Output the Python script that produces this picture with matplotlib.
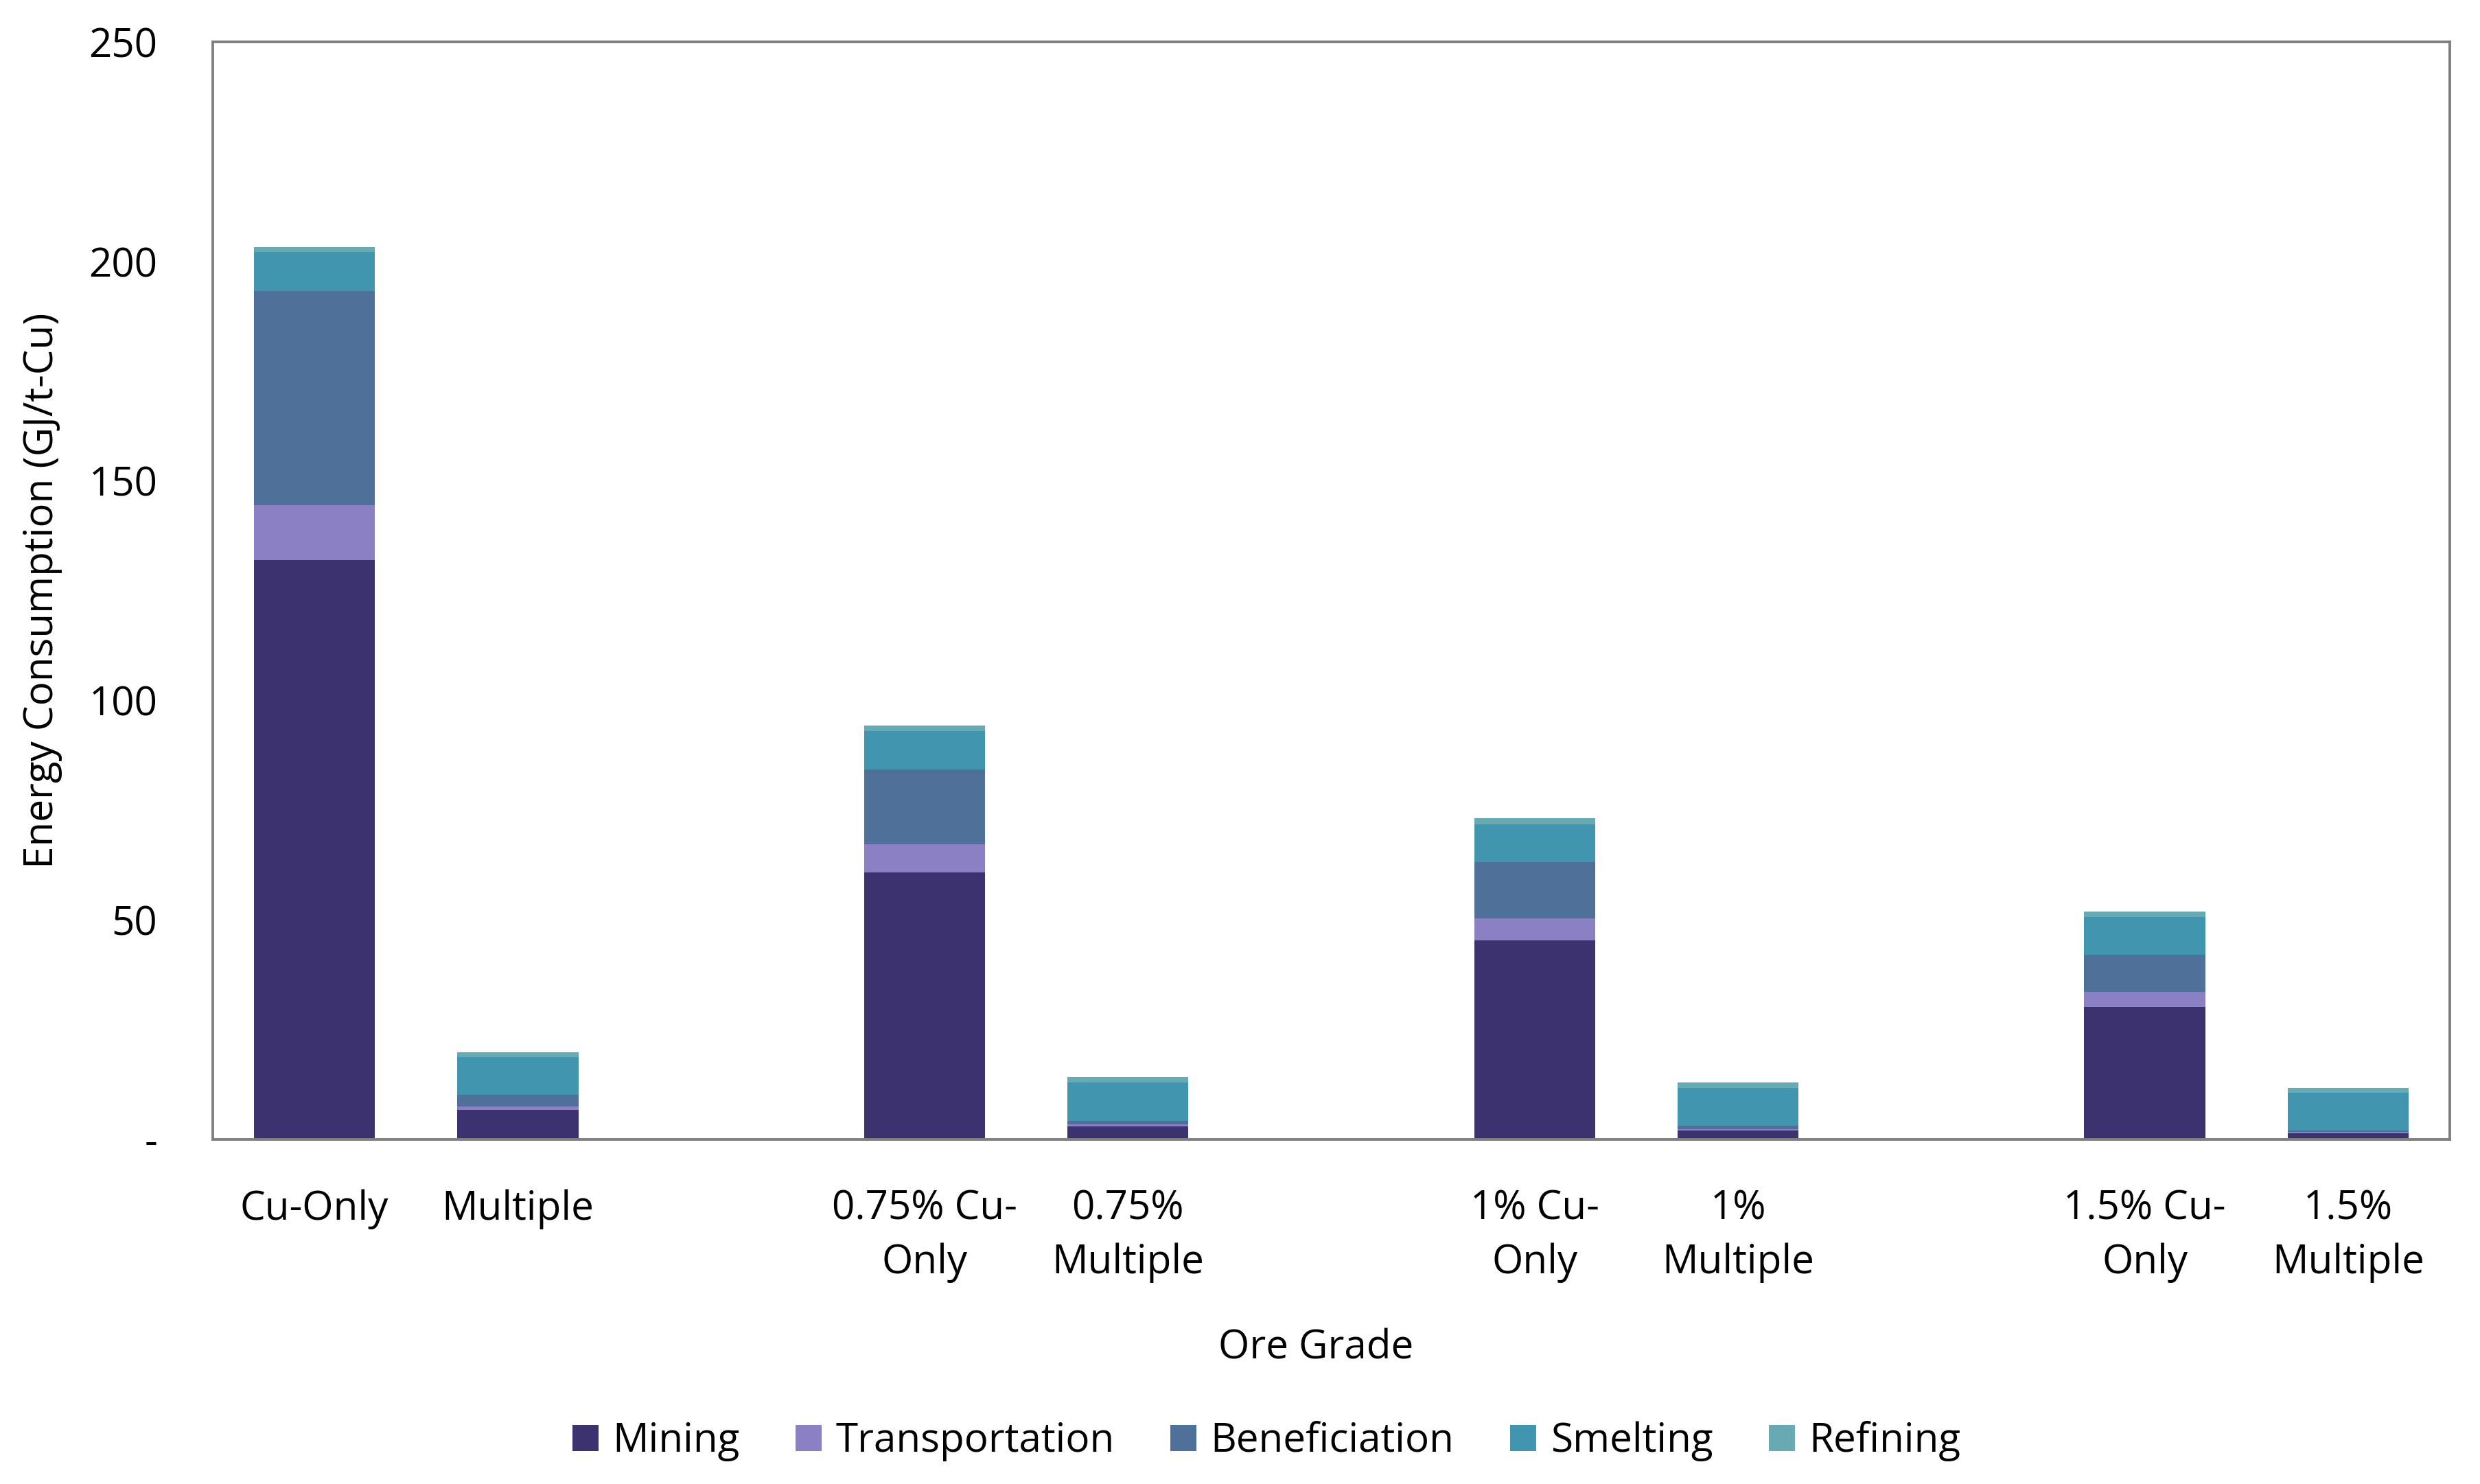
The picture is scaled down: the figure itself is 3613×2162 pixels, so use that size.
import numpy as np
import matplotlib
matplotlib.use("Agg")
from matplotlib import pyplot as plt

plt.rcParams['font.family'] = ['Open Sans', 'DejaVu Sans']

# categories (blank slots separate the ore grade groups, as in the source chart)
categories = ["Cu-Only", "Multiple", "",
              "0.75% Cu-\nOnly", "0.75%\nMultiple", "",
              "1% Cu-\nOnly", "1%\nMultiple", "",
              "1.5% Cu-\nOnly", "1.5%\nMultiple"]

mining         = [132.0, 6.8, 0, 60.8, 2.9, 0, 45.4, 2.1, 0, 30.1, 1.4]
transportation = [12.5, 0.7, 0, 6.5, 0.5, 0, 5.0, 0.2, 0, 3.5, 0.3]
beneficiation  = [48.8, 2.7, 0, 16.9, 0.8, 0, 12.7, 0.8, 0, 8.4, 0.3]
smelting       = [8.8, 8.6, 0, 8.8, 8.8, 0, 8.6, 8.6, 0, 8.6, 8.6]
refining       = [1.2, 1.1, 0, 1.3, 1.2, 0, 1.4, 1.2, 0, 1.3, 1.2]

series = [("Mining", mining, "#3c3270"),
          ("Transportation", transportation, "#8b80c4"),
          ("Beneficiation", beneficiation, "#4f7098"),
          ("Smelting", smelting, "#4295ae"),
          ("Refining", refining, "#67aab3")]

yticks = [0, 50, 100, 150, 200, 250]
ytick_labels = ["-", "50", "100", "150", "200", "250"]

W, H = 3613, 2162
fig = plt.figure(figsize=(W / 200, H / 200), dpi=200)
ax = fig.add_axes([310 / W, 1 - 1660 / H, (3569 - 310) / W, (1660 - 61) / H])

x = np.arange(len(categories))
bottom = np.zeros(len(categories))
for name, vals, col in series:
    vals = np.array(vals, dtype=float)
    ax.bar(x, vals, width=0.595, bottom=bottom, color=col, label=name, linewidth=0)
    bottom += vals

ax.set_xlim(-0.5, len(categories) - 0.5)
ax.set_ylim(0, 250)
ax.set_xticks(x)
ax.set_xticklabels(categories, fontsize=21, linespacing=1.45)
ax.set_yticks(yticks)
ax.set_yticklabels(ytick_labels, fontsize=21)
ax.tick_params(axis='both', length=0)
ax.tick_params(axis='x', pad=26)
ax.tick_params(axis='y', pad=29)

for sp in ax.spines.values():
    sp.set_color("#808080")
    sp.set_linewidth(1.4)

fig.text(1917 / W, 1 - 1964 / H, "Ore Grade", ha='center', va='center', fontsize=21)
fig.text(62 / W, 1 - 860 / H, "Energy Consumption (GJ/t-Cu)", ha='center', va='center',
         rotation=90, fontsize=21)

fig.legend(loc='center', bbox_to_anchor=(1845 / W, 1 - 2100 / H), ncol=5, frameon=False,
           fontsize=21, handlelength=0.65, handleheight=0.65, handletextpad=0.35,
           columnspacing=1.4)

fig.savefig("out.png", dpi=200, facecolor="white")
